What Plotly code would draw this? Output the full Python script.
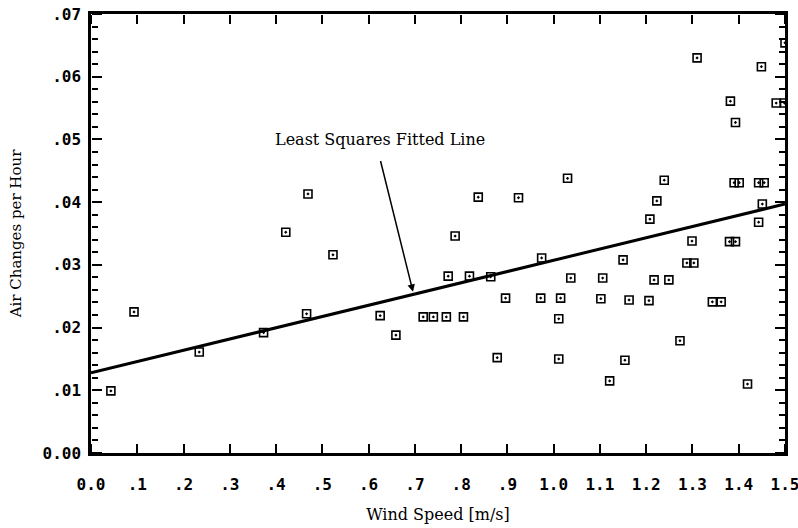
import plotly.graph_objects as go

wind_speed = [0.043, 0.093, 0.234, 0.373, 0.421, 0.466, 0.469, 0.523, 0.625, 0.659,
              0.718, 0.740, 0.768, 0.772, 0.787, 0.805, 0.818, 0.837, 0.864, 0.878,
              0.896, 0.924, 0.972, 0.974, 1.011, 1.011, 1.015, 1.030, 1.037, 1.102,
              1.106, 1.121, 1.150, 1.154, 1.163, 1.206, 1.208, 1.217, 1.223, 1.239,
              1.249, 1.273, 1.288, 1.299, 1.303, 1.310, 1.343, 1.362, 1.380, 1.382,
              1.390, 1.393, 1.393, 1.401, 1.419, 1.443, 1.443, 1.451, 1.449, 1.455,
              1.481, 1.499, 1.500]
air_changes = [0.0099, 0.0225, 0.0161, 0.0192, 0.0352, 0.0222, 0.0413, 0.0316, 0.0219, 0.0188,
               0.0217, 0.0217, 0.0217, 0.0282, 0.0346, 0.0217, 0.0282, 0.0408, 0.0281, 0.0152,
               0.0247, 0.0407, 0.0247, 0.0311, 0.0214, 0.0150, 0.0247, 0.0438, 0.0279, 0.0246,
               0.0279, 0.0115, 0.0308, 0.0148, 0.0244, 0.0243, 0.0373, 0.0276, 0.0402, 0.0435,
               0.0276, 0.0179, 0.0303, 0.0338, 0.0303, 0.0630, 0.0241, 0.0241, 0.0337, 0.0561,
               0.0431, 0.0527, 0.0337, 0.0431, 0.0110, 0.0431, 0.0368, 0.0397, 0.0616, 0.0431,
               0.0558, 0.0558, 0.0654]

fit_x = [0.0, 1.5]
fit_y = [0.0128, 0.0397]

x_ticks = [0.0, 0.1, 0.2, 0.3, 0.4, 0.5, 0.6, 0.7, 0.8, 0.9, 1.0, 1.1, 1.2, 1.3, 1.4, 1.5]
x_labels = ["0.0", ".1", ".2", ".3", ".4", ".5", ".6", ".7", ".8", ".9", "1.0", "1.1", "1.2", "1.3", "1.4", "1.5"]
y_ticks = [0.0, 0.01, 0.02, 0.03, 0.04, 0.05, 0.06, 0.07]
y_labels = ["0.00", ".01", ".02", ".03", ".04", ".05", ".06", ".07"]

tick_font = dict(family="DejaVu Sans Mono", size=16, color="black", weight="bold")
serif = dict(family="DejaVu Serif", size=16, color="black")
serif_y = dict(family="DejaVu Serif", size=15, color="black")

X_RANGE = [0, 1.5]
Y_RANGE = [0, 0.07]

fig = go.Figure()
fig.add_trace(go.Scatter(x=fit_x, y=fit_y, mode="lines", xaxis="x3", yaxis="y3",
                         line=dict(color="black", width=3), showlegend=False))
fig.add_trace(go.Scatter(x=wind_speed, y=air_changes, mode="markers", xaxis="x4", yaxis="y4",
                         marker=dict(symbol="square-open-dot", size=8,
                                     color="black", line=dict(width=1.6, color="black")),
                         showlegend=False))

fig.add_annotation(x=0.696, y=0.0257, ax=0.625, ay=0.0468, xref="x", yref="y",
                   axref="x", ayref="y", showarrow=True, arrowhead=2, arrowsize=1,
                   arrowwidth=1.5, arrowcolor="black", text="")
fig.add_annotation(x=0.625, y=0.0500, xref="x", yref="y", showarrow=False,
                   text="Least Squares Fitted Line", font=serif)

common = dict(showgrid=False, zeroline=False)
tick_x = dict(range=X_RANGE, tickvals=x_ticks, ticks="outside", ticklen=9, tickwidth=2,
              tickcolor="black", showticklabels=False, showline=False,
              anchor="free", overlaying="x", **common)
minor_y = dict(ticks="outside", dtick=0.002, ticklen=6, tickwidth=1.5,
               tickcolor="black", showgrid=False)
tick_y = dict(range=Y_RANGE, tickvals=y_ticks, ticks="outside", ticklen=10, tickwidth=2,
              tickcolor="black", showticklabels=False, showline=False,
              anchor="free", overlaying="y", minor=minor_y, **common)

fig.update_layout(
    width=798, height=528,
    margin=dict(l=91, r=13, t=14, b=75),
    paper_bgcolor="white", plot_bgcolor="white",
    xaxis=dict(range=X_RANGE, tickvals=x_ticks, ticktext=x_labels, ticks="",
               showline=True, linewidth=2.5, linecolor="black", mirror=True,
               tickfont=tick_font, ticklabelstandoff=15, automargin=False,
               ticklabeloverflow="allow",
               title=dict(text="Wind Speed [m/s]", font=serif, standoff=16), **common),
    yaxis=dict(range=Y_RANGE, tickvals=y_ticks, ticktext=y_labels, ticks="",
               showline=True, linewidth=2.5, linecolor="black", mirror=True,
               tickfont=tick_font, automargin=False, ticklabelstandoff=4,
               title=dict(text="Air Changes per Hour", font=serif_y, standoff=18), **common),
    xaxis3=dict(side="top", position=0, **tick_x),
    xaxis4=dict(side="bottom", position=1, **tick_x),
    yaxis3=dict(side="right", position=0, **tick_y),
    yaxis4=dict(side="left", position=1, **tick_y),
)

fig.write_html("out.html")
